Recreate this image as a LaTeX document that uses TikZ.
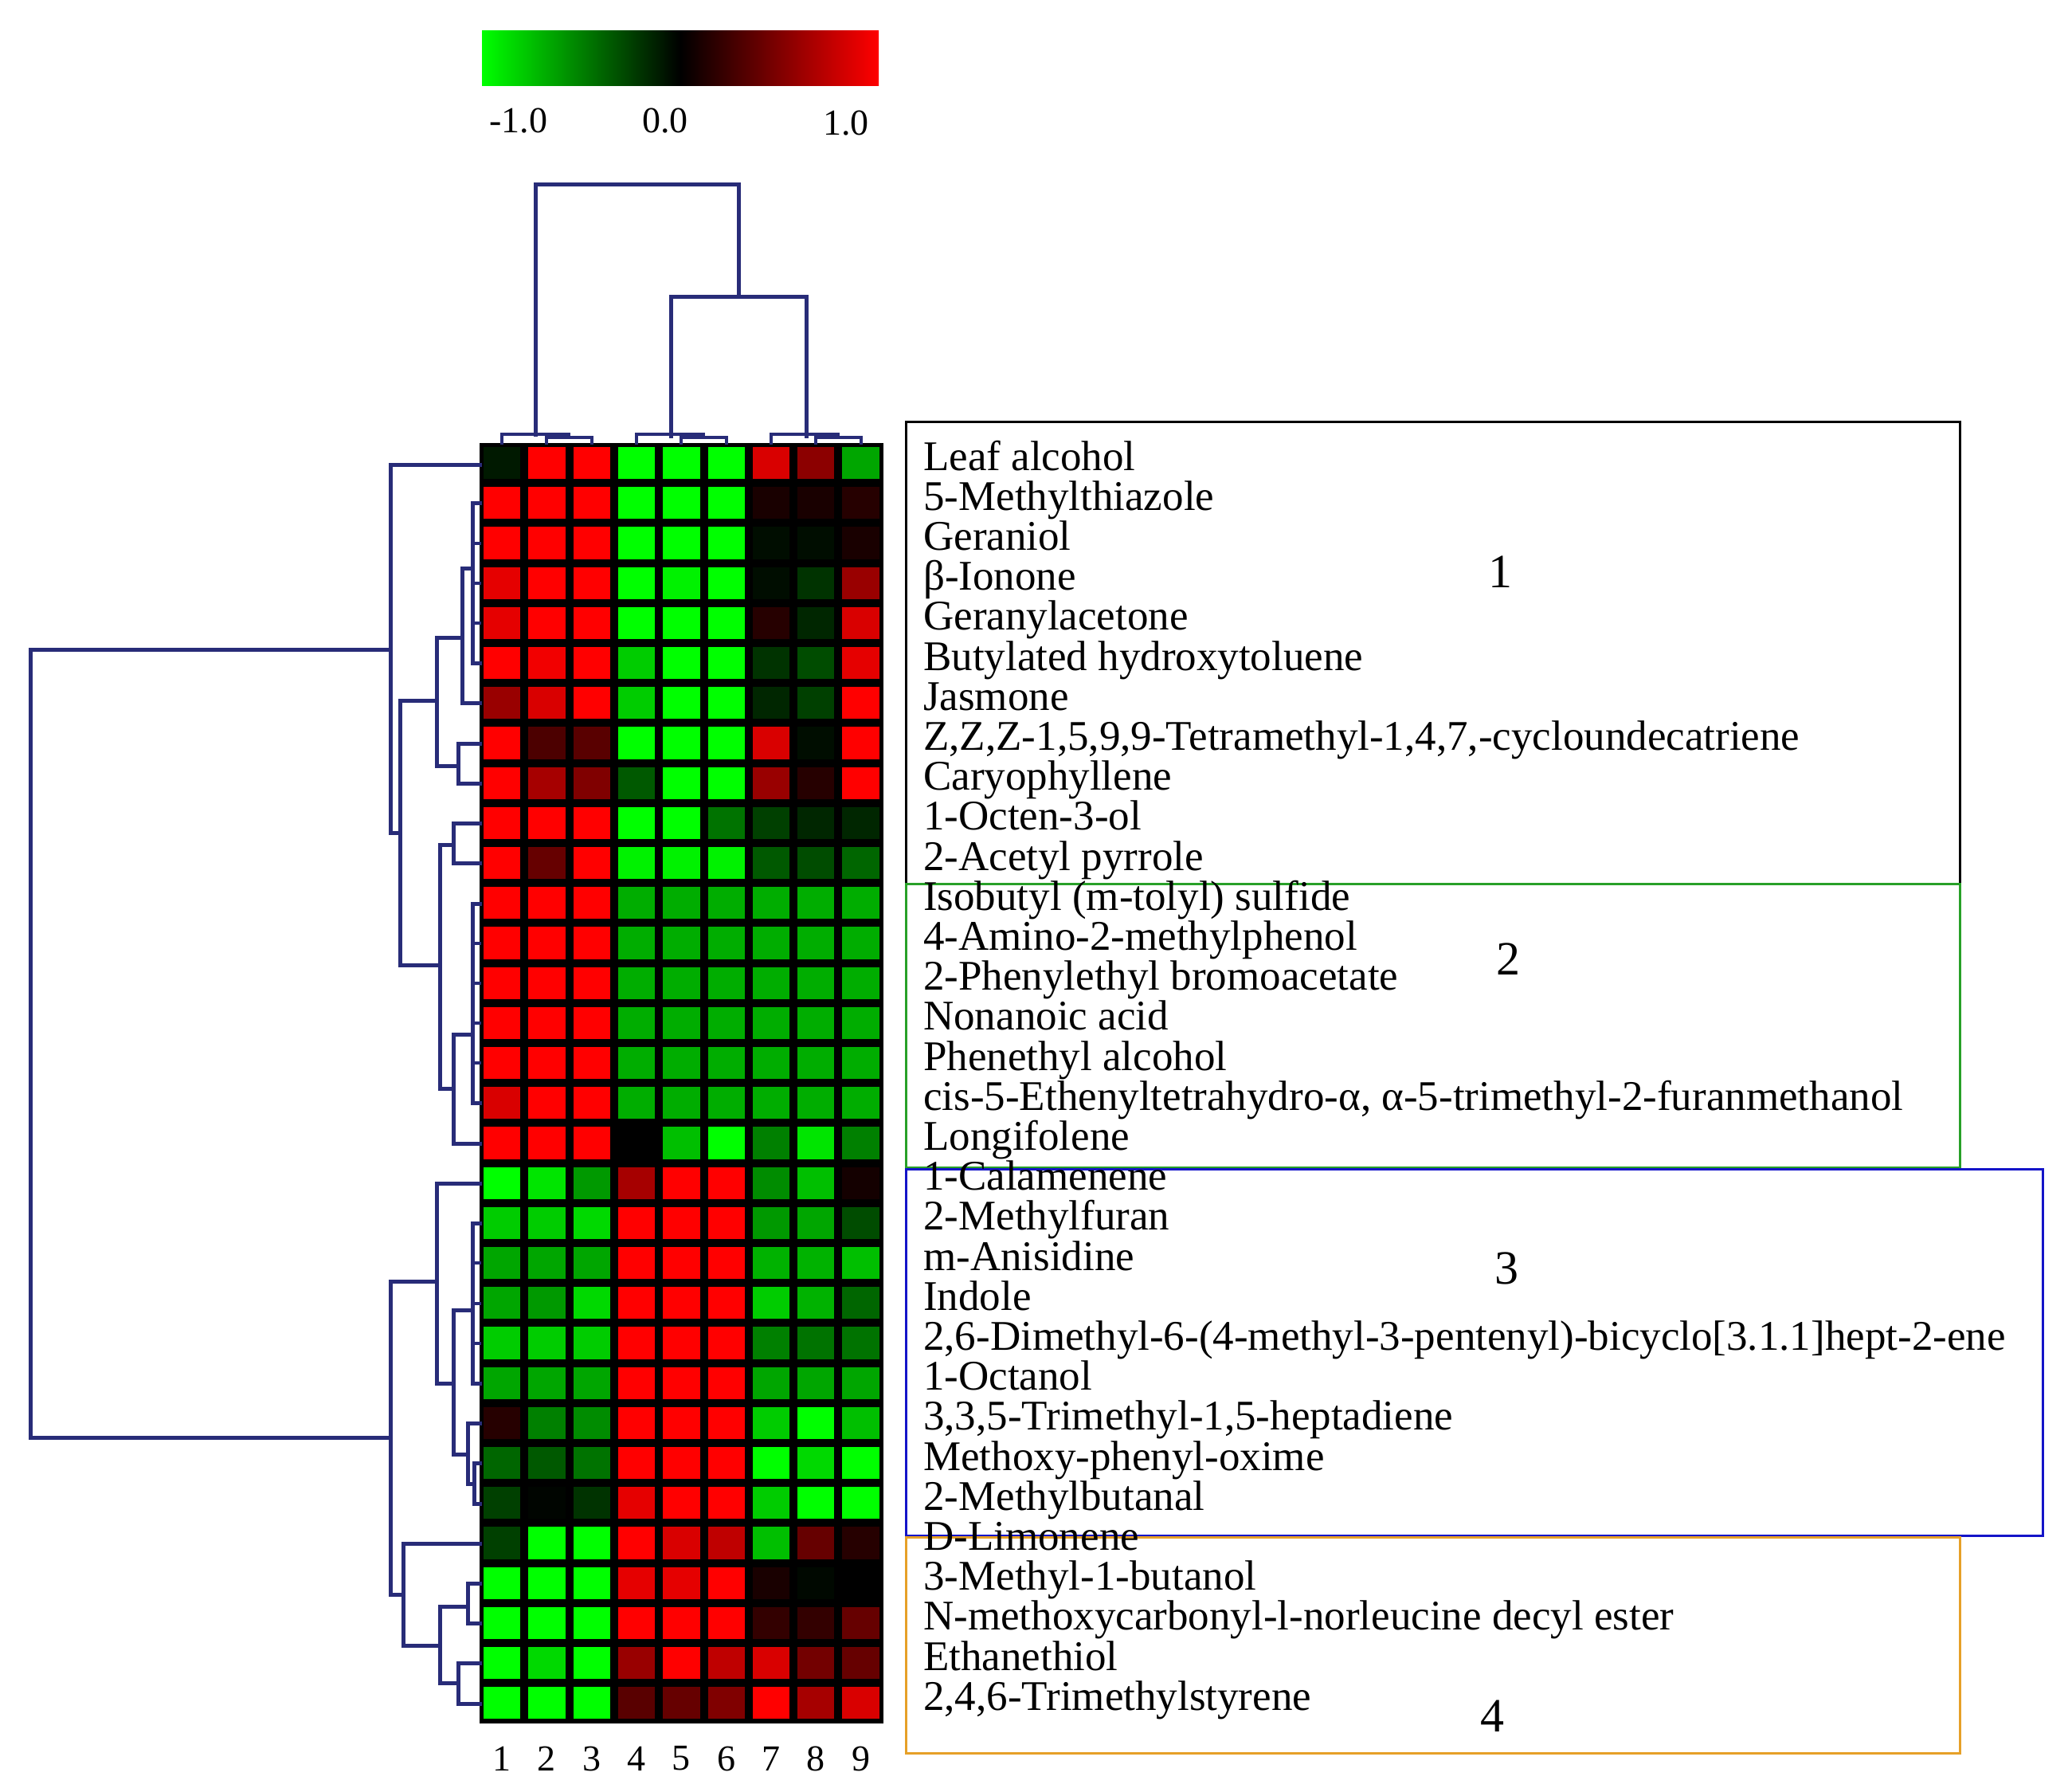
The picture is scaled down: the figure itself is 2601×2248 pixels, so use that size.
\documentclass[tikz,border=0pt]{standalone}
\usepackage{fontspec}
\setmainfont{Liberation Serif}
\begin{document}
\begin{tikzpicture}[x=1pt,y=-1pt,
  dend/.style={draw=dendro,line width=5pt,line cap=rect},
  lab/.style={anchor=base west,font=\fontsize{53}{56}\selectfont,inner sep=0},
  num/.style={font=\fontsize{46}{50}\selectfont,inner sep=0},
  big/.style={font=\fontsize{60}{66}\selectfont,inner sep=0}]
\definecolor{gg}{RGB}{0,255,0}
\definecolor{dendro}{RGB}{40,44,120}
\definecolor{boxgreen}{RGB}{40,160,40}
\definecolor{boxblue}{RGB}{20,20,200}
\definecolor{boxorange}{RGB}{230,160,40}
\useasboundingbox (0,0) rectangle (2601,2248);
\fill[white] (0,0) rectangle (2601,2248);
% colour bar
\shade[left color=gg,right color=red,middle color=black] (605,39) rectangle (1103,107);
\node[num] (lm) at (651,152) {-1.0};
\node[num] (l0) at (835,152) {0.0};
\node[num] (l1) at (1062,155) {1.0};
% heatmap
\fill[black] (602,556) rectangle (1109,2163);
\foreach \vals [count=\r] in {
{-0.1,1,1,-1,-1,-1,0.85,0.55,-0.65},
{1,1,1,-1,-1,-1,0.1,0.1,0.15},
{1,1,1,-1,-1,-1,-0.05,-0.05,0.1},
{0.9,1,1,-1,-0.95,-1,-0.05,-0.2,0.6},
{0.9,1,1,-1,-1,-1,0.15,-0.15,0.85},
{1,0.95,1,-0.8,-1,-1,-0.2,-0.3,0.9},
{0.6,0.85,1,-0.8,-1,-1,-0.15,-0.25,1},
{1,0.3,0.35,-1,-1,-1,0.85,-0.05,1},
{1,0.65,0.5,-0.35,-1,-1,0.6,0.15,1},
{1,1,1,-1,-1,-0.45,-0.25,-0.15,-0.15},
{1,0.4,1,-0.95,-0.95,-0.95,-0.35,-0.3,-0.4},
{1,1,1,-0.68,-0.68,-0.68,-0.68,-0.68,-0.68},
{1,1,1,-0.68,-0.68,-0.68,-0.68,-0.68,-0.68},
{1,1,1,-0.68,-0.68,-0.68,-0.68,-0.68,-0.68},
{1,1,1,-0.68,-0.68,-0.68,-0.68,-0.68,-0.68},
{1,1,1,-0.68,-0.68,-0.68,-0.68,-0.68,-0.68},
{0.85,1,1,-0.68,-0.68,-0.68,-0.68,-0.68,-0.68},
{1,1,1,0,-0.75,-1,-0.5,-0.9,-0.5},
{-1,-0.9,-0.6,0.65,1,1,-0.55,-0.75,0.08},
{-0.8,-0.8,-0.85,1,1,1,-0.6,-0.65,-0.3},
{-0.65,-0.65,-0.65,1,1,1,-0.7,-0.7,-0.75},
{-0.65,-0.6,-0.85,1,1,1,-0.8,-0.7,-0.4},
{-0.8,-0.8,-0.8,1,1,1,-0.5,-0.45,-0.45},
{-0.65,-0.65,-0.65,1,1,1,-0.65,-0.65,-0.65},
{0.15,-0.5,-0.55,1,1,1,-0.8,-1,-0.75},
{-0.4,-0.35,-0.45,1,1,1,-1,-0.85,-1},
{-0.25,-0.02,-0.2,0.9,1,1,-0.8,-1,-1},
{-0.25,-1,-1,1,0.85,0.75,-0.75,0.4,0.15},
{-1,-1,-1,0.9,0.9,1,0.1,-0.03,0},
{-1,-1,-1,1,1,1,0.2,0.2,0.4},
{-1,-0.85,-1,0.6,1,0.75,0.85,0.45,0.4},
{-1,-1,-1,0.35,0.4,0.5,1,0.65,0.85}} {
  \foreach \v [count=\c] in \vals {
    \pgfmathsetmacro\p{abs(\v)*100}
    \pgfmathtruncatemacro\pos{\v>0}
    \ifnum\pos=1 \colorlet{cc}{red!\p!black}\else\colorlet{cc}{gg!\p!black}\fi
    \pgfmathsetmacro\xa{602+56.3*(\c-1)+5}
    \pgfmathsetmacro\ya{556+50.2*(\r-1)+5}
    \fill[cc] (\xa,\ya) rectangle ++(46.3,40.2);
  }
}
% column numbers
\foreach \c in {1,...,9} {
  \pgfmathsetmacro\xc{602+56.3*(\c-0.5)}
  \node[num] (c\c) at (\xc,2207) {\c};
}
% top dendrogram
\draw[dend] (672,545) -- (672,231) -- (927,231) -- (927,372);
\draw[dend] (842,547) -- (842,372) -- (1012,372) -- (1012,547);
\foreach \a/\m in {630/672,799/842,968/1012} {
  \pgfmathsetmacro\b{\a+56.3}\pgfmathsetmacro\cc{\a+112.6}\pgfmathsetmacro\mm{\a+84.4}
  \draw[dend,line width=4pt] (\a,556) -- (\a,545) -- (\mm,545) -- (\mm,549);
  \draw[dend,line width=4pt] (\b,556) -- (\b,549) -- (\cc,549) -- (\cc,556);
}
% left dendrogram
\draw[dend] (490,815) -- (38,815) -- (38,1804) -- (490,1804);
\draw[dend] (602,583) -- (490,583) -- (490,1045) -- (502,1045);
\draw[dend] (548,879) -- (502,879) -- (502,1211) -- (552,1211);
\draw[dend] (580,800) -- (548,800) -- (548,961) -- (575,961);
\draw[dend] (593,713) -- (580,713) -- (580,882) -- (602,882);
\draw[dend] (602,631) -- (593,631) -- (593,832) -- (602,832);
\foreach \y in {682,732,782} \draw[dend,line width=4pt] (593,\y) -- (602,\y);
\draw[dend] (602,933) -- (575,933) -- (575,983) -- (602,983);
\draw[dend] (569,1060) -- (552,1060) -- (552,1366) -- (569,1366);
\draw[dend] (602,1033) -- (569,1033) -- (569,1083) -- (602,1083);
\draw[dend] (593,1298) -- (569,1298) -- (569,1435) -- (602,1435);
\draw[dend] (602,1134) -- (593,1134) -- (593,1384) -- (602,1384);
\foreach \y in {1184,1234,1284,1334} \draw[dend,line width=4pt] (593,\y) -- (602,\y);
\draw[dend] (548,1608) -- (490,1608) -- (490,2001) -- (506,2001);
\draw[dend] (602,1485) -- (548,1485) -- (548,1736) -- (569,1736);
\draw[dend] (593,1644) -- (569,1644) -- (569,1825) -- (587,1825);
\draw[dend] (602,1535) -- (593,1535) -- (593,1736) -- (602,1736);
\foreach \y in {1585,1636,1686} \draw[dend,line width=4pt] (593,\y) -- (602,\y);
\draw[dend] (602,1786) -- (587,1786) -- (587,1862) -- (595,1862);
\draw[dend] (602,1836) -- (595,1836) -- (595,1887) -- (602,1887);
\draw[dend] (602,1937) -- (506,1937) -- (506,2065) -- (552,2065);
\draw[dend] (587,2016) -- (552,2016) -- (552,2112) -- (575,2112);
\draw[dend] (602,1987) -- (587,1987) -- (587,2037) -- (602,2037);
\draw[dend] (602,2087) -- (575,2087) -- (575,2138) -- (602,2138);
% boxes
\draw[black,line width=3pt] (1137,529) rectangle (2460,1109);
\draw[boxgreen,line width=3pt] (1137,1109) rectangle (2460,1465);
\draw[boxblue,line width=3pt] (1137,1467) rectangle (2564,1927);
\draw[boxorange,line width=3pt] (1137,1929) rectangle (2460,2200);
\node[big] (g1) at (1883,718) {1};
\node[big] (g2) at (1893,1204) {2};
\node[big] (g3) at (1891,1592) {3};
\node[big] (g4) at (1873,2154) {4};
% labels
\foreach \t [count=\r] in {Leaf alcohol,5-Methylthiazole,Geraniol,β-Ionone,Geranylacetone,Butylated hydroxytoluene,Jasmone,{Z,Z,Z-1,5,9,9-Tetramethyl-1,4,7,-cycloundecatriene},Caryophyllene,1-Octen-3-ol,2-Acetyl pyrrole,Isobutyl (m-tolyl) sulfide,4-Amino-2-methylphenol,2-Phenylethyl bromoacetate,Nonanoic acid,Phenethyl alcohol,{cis-5-Ethenyltetrahydro-α, α-5-trimethyl-2-furanmethanol},Longifolene,1-Calamenene,2-Methylfuran,m-Anisidine,Indole,{2,6-Dimethyl-6-(4-methyl-3-pentenyl)-bicyclo[3.1.1]hept-2-ene},1-Octanol,{3,3,5-Trimethyl-1,5-heptadiene},Methoxy-phenyl-oxime,2-Methylbutanal,D-Limonene,3-Methyl-1-butanol,N-methoxycarbonyl-l-norleucine decyl ester,Ethanethiol,{2,4,6-Trimethylstyrene}} {
  \pgfmathsetmacro\yy{556+50.2*(\r-0.5)+9}
  \node[lab] (t\r) at (1159,\yy) {\t};
}
\end{tikzpicture}
\end{document}
